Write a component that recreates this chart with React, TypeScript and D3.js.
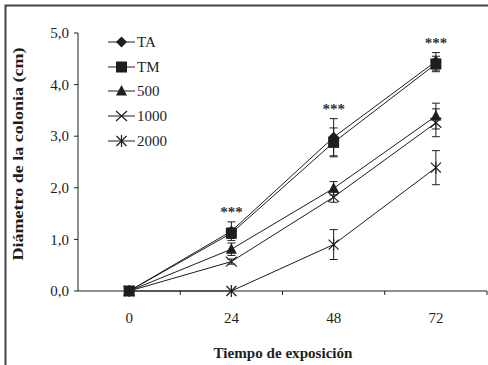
import React from "react";
import * as d3 from "d3";

const categories = ["0", "24", "48", "72"];
const seriesNames = ["TA", "TM", "500", "1000", "2000"];
const valuesTA = [0, 1.16, 2.98, 4.45];
const valuesTM = [0, 1.12, 2.88, 4.4];
const values500 = [0, 0.81, 1.99, 3.39];
const values1000 = [0, 0.57, 1.82, 3.26];
const values2000 = [0, 0, 0.9, 2.39];
const errTA = [0, 0.18, 0.36, 0.17];
const errTM = [0, 0.1, 0.28, 0.15];
const err500 = [0, 0.12, 0.13, 0.25];
const err1000 = [0, 0.05, 0.1, 0.27];
const err2000 = [0, 0, 0.29, 0.33];
const signif = ["", "***", "***", "***"];
const yTicks = [0, 1, 2, 3, 4, 5];
const yTitle = "Diámetro de la colonia (cm)";
const xTitle = "Tiempo de exposición";

const allValues = [valuesTA, valuesTM, values500, values1000, values2000];
const allErr = [errTA, errTM, err500, err1000, err2000];
const shapes = ["diamond", "square", "triangle", "x", "star"];

const W = 488, H = 365;
const left = 78, right = 487, top = 33, bottom = 291;
const ink = "#1e1e1e";
const font = "'Liberation Serif', 'Times New Roman', serif";

function Marker({ shape, x, y }: { shape: string; x: number; y: number }) {
  if (shape === "diamond") {
    return <path d={`M${x},${y - 5.5}L${x + 5.5},${y}L${x},${y + 5.5}L${x - 5.5},${y}Z`} fill={ink} />;
  }
  if (shape === "square") {
    return <rect x={x - 5.5} y={y - 5.5} width={11} height={11} fill={ink} />;
  }
  if (shape === "triangle") {
    return <path d={`M${x},${y - 6}L${x + 5.5},${y + 4.5}L${x - 5.5},${y + 4.5}Z`} fill={ink} />;
  }
  if (shape === "x") {
    return (
      <g stroke={ink} strokeWidth={1.2}>
        <line x1={x - 5.5} y1={y - 5} x2={x + 5.5} y2={y + 5} />
        <line x1={x - 5.5} y1={y + 5} x2={x + 5.5} y2={y - 5} />
      </g>
    );
  }
  return (
    <g stroke={ink} strokeWidth={1.2}>
      <line x1={x - 5} y1={y - 5} x2={x + 5} y2={y + 5} />
      <line x1={x - 5} y1={y + 5} x2={x + 5} y2={y - 5} />
      <line x1={x} y1={y - 6} x2={x} y2={y + 6} />
    </g>
  );
}

export default function App() {
  const x = d3.scaleBand<string>().domain(categories).range([left, right]);
  const y = d3.scaleLinear().domain([0, 5]).range([bottom, top]);
  const cx = (c: string) => (x(c) as number) + x.bandwidth() / 2;
  const line = d3
    .line<number>()
    .x((_, i) => cx(categories[i]))
    .y((v) => y(v));

  const legendY = [42, 67, 91, 116, 141];

  return (
    <svg width={W} height={H} style={{ position: "absolute", left: 0, top: 0, background: "#fff" }}>
      <rect x={0} y={0} width={W} height={H} fill="#fff" />
      <rect x={5.5} y={5.5} width={W + 10} height={H + 10} fill="none" stroke="#444" strokeWidth={2} />

      {/* y axis */}
      <line x1={left} y1={top} x2={left} y2={bottom} stroke={ink} strokeWidth={1} />
      {yTicks.map((t) => (
        <g key={t}>
          <line x1={left - 4} y1={y(t)} x2={left} y2={y(t)} stroke={ink} />
          <text x={left - 9} y={y(t)} dy="0.35em" textAnchor="end" fontFamily={font} fontSize={15} fill={ink}>
            {d3.format(".1f")(t).replace(".", ",")}
          </text>
        </g>
      ))}

      {/* x axis */}
      <line x1={left} y1={bottom} x2={right} y2={bottom} stroke={ink} strokeWidth={1} />
      {categories.map((c) => (
        <g key={c}>
          <line x1={(x(c) as number) + x.bandwidth()} y1={bottom} x2={(x(c) as number) + x.bandwidth()} y2={bottom + 4} stroke={ink} />
          <text x={cx(c)} y={bottom + 27} dy="0.35em" textAnchor="middle" fontFamily={font} fontSize={15} fill={ink}>
            {c}
          </text>
        </g>
      ))}

      {/* lines */}
      {allValues.map((vals, si) => (
        <path key={si} d={line(vals) as string} fill="none" stroke={ink} strokeWidth={1} />
      ))}

      {/* error bars */}
      {allValues.map((vals, si) =>
        vals.map((v, i) => {
          const e = allErr[si][i];
          if (!e) return null;
          const px = cx(categories[i]);
          return (
            <g key={`${si}-${i}`} stroke={ink} strokeWidth={1}>
              <line x1={px} y1={y(v - e)} x2={px} y2={y(v + e)} />
              <line x1={px - 4} y1={y(v + e)} x2={px + 4} y2={y(v + e)} />
              <line x1={px - 4} y1={y(v - e)} x2={px + 4} y2={y(v - e)} />
            </g>
          );
        })
      )}

      {/* markers */}
      {allValues.map((vals, si) =>
        vals.map((v, i) => <Marker key={`${si}-${i}`} shape={shapes[si]} x={cx(categories[i])} y={y(v)} />)
      )}

      {/* significance */}
      {signif.map((s, i) =>
        s ? (
          <text key={i} x={cx(categories[i])} y={y(valuesTA[i] + errTA[i]) - 5} textAnchor="middle" fontFamily={font} fontSize={15} fontWeight="bold" fill="#333">
            {s}
          </text>
        ) : null
      )}

      {/* legend */}
      {seriesNames.map((n, i) => (
        <g key={n}>
          <line x1={108} y1={legendY[i]} x2={135} y2={legendY[i]} stroke={ink} strokeWidth={1} />
          <Marker shape={shapes[i]} x={121.5} y={legendY[i]} />
          <text x={137} y={legendY[i]} dy="0.35em" fontFamily={font} fontSize={15} fill={ink}>
            {n}
          </text>
        </g>
      ))}

      {/* titles */}
      <text transform={`translate(18,154) rotate(-90)`} textAnchor="middle" dy="0.35em" fontFamily={font} fontSize={15} fontWeight="bold" fill={ink} textLength={213} lengthAdjust="spacingAndGlyphs">
        {yTitle}
      </text>
      <text x={283} y={353} dy="0.35em" textAnchor="middle" fontFamily={font} fontSize={14.5} fontWeight="bold" fill={ink} textLength={139} lengthAdjust="spacingAndGlyphs">
        {xTitle}
      </text>
    </svg>
  );
}
